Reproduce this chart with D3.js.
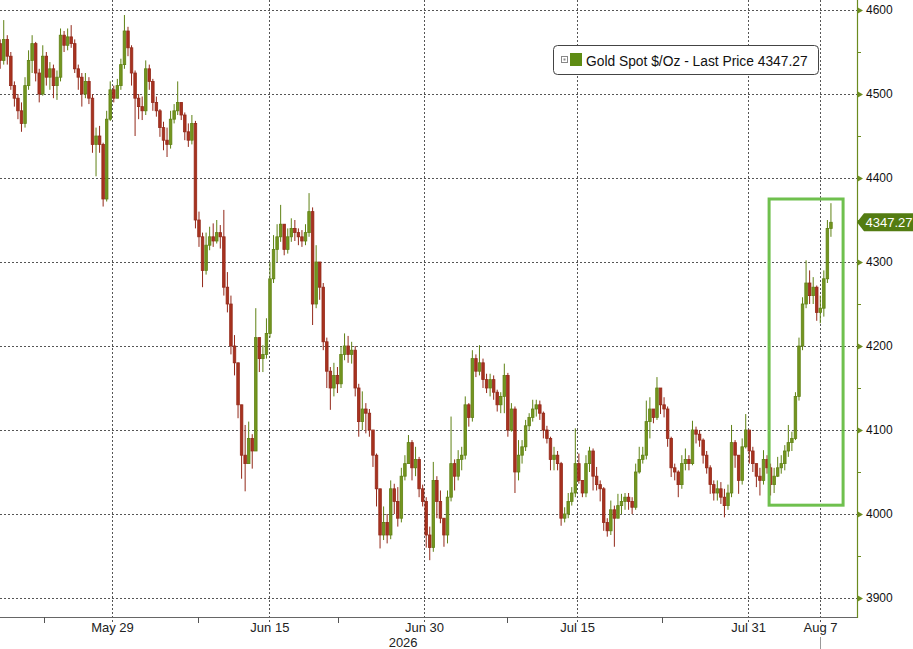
<!DOCTYPE html>
<html>
<head>
<meta charset="utf-8">
<script src="https://cdn.jsdelivr.net/npm/d3@7"></script>
<style>
body { margin: 0; background: #fff; }
svg { display: block; font-family: "Liberation Sans", Arial, sans-serif; }
</style>
</head>
<body>
<svg width="913" height="649"></svg>
<script>
// Gold spot, 6-hour bars, one slot per quarter trading day starting May 19 2026
var opens = [4560,
  4540,4565,4545,4510,4495,4480,4465,4510,4540,4560,
  4525,4500,4545,4520,4530,4510,4520,4570,4558,4568,
  4560,4530,4520,4500,4515,4495,4440,4450,4440,4375,
  4470,4505,4495,4510,4535,4575,4555,4525,4495,4485,
  4480,4530,4515,4490,4480,4460,4445,4440,4470,4480,
  4490,4475,4455,4445,4465,4350,4330,4290,4320,4330,
  4325,4335,4330,4270,4250,4200,4180,4130,4070,4060,
  4090,4075,4210,4185,4190,4215,4280,4315,4330,4345,
  4315,4330,4340,4335,4330,4325,4335,4360,4250,4300,
  4270,4205,4170,4150,4165,4155,4190,4200,4190,4195,
  4150,4110,4125,4120,4100,4070,4030,3975,3990,3975,
  4030,4015,3995,4045,4060,4085,4055,4065,4030,4015,
  3975,3960,4040,4015,3995,3975,4020,4060,4045,4065,
  4070,4130,4115,4185,4170,4180,4160,4150,4160,4145,
  4130,4140,4165,4100,4125,4050,4070,4080,4105,4115,
  4125,4130,4120,4100,4090,4065,4070,4060,3995,4000,
  4015,4025,4060,4040,4025,4060,4075,4045,4035,4030,
  3990,3980,4005,3995,4010,4015,4020,4015,4008,4050,
  4065,4070,4110,4125,4115,4150,4130,4125,4090,4055,
  4050,4035,4060,4065,4060,4100,4095,4088,4070,4055,
  4035,4025,4030,4020,4010,4025,4085,4070,4040,4080,
  4100,4075,4060,4045,4040,4065,4055,4035,4045,4055,
  4060,4075,4085,4090,4140,4200,4250,4275,4260,4270,
  4240,4245,4280,4340];

var highs = [
  4565,4588,4570,4550,4515,4500,4490,4520,4552,4570,
  4562,4530,4558,4550,4538,4535,4528,4578,4575,4578,
  4582,4565,4535,4525,4525,4520,4500,4460,4462,4442,
  4480,4515,4510,4518,4542,4594,4580,4558,4528,4500,
  4497,4540,4535,4518,4497,4482,4467,4460,4480,4488,
  4515,4490,4478,4465,4475,4468,4360,4335,4335,4342,
  4346,4350,4344,4362,4288,4260,4213,4180,4130,4106,
  4110,4095,4245,4210,4201,4233,4300,4332,4345,4368,
  4345,4340,4352,4350,4340,4338,4345,4382,4365,4320,
  4300,4275,4210,4175,4180,4175,4200,4215,4212,4205,
  4200,4155,4146,4132,4125,4100,4072,4030,4009,4000,
  4040,4036,4032,4055,4070,4094,4088,4080,4068,4035,
  4020,3985,4062,4045,4028,3995,4028,4116,4065,4076,
  4080,4140,4132,4195,4190,4201,4185,4167,4167,4165,
  4148,4145,4179,4168,4132,4128,4088,4088,4112,4120,
  4136,4136,4135,4122,4105,4092,4080,4075,4062,4008,
  4025,4032,4102,4072,4040,4070,4080,4078,4056,4040,
  4032,3995,4016,4010,4024,4024,4025,4025,4020,4060,
  4080,4080,4135,4139,4125,4163,4150,4139,4128,4092,
  4060,4052,4070,4078,4070,4111,4104,4100,4090,4075,
  4058,4040,4040,4038,4030,4035,4106,4088,4070,4090,
  4119,4100,4080,4060,4055,4076,4070,4060,4055,4068,
  4070,4082,4106,4098,4145,4210,4258,4302,4290,4282,
  4272,4260,4290,4350,4370];

var lows = [
  4530,4535,4535,4505,4485,4470,4455,4460,4505,4525,
  4515,4490,4498,4510,4505,4495,4493,4515,4550,4552,
  4555,4525,4505,4485,4495,4488,4430,4402,4430,4366,
  4372,4468,4490,4495,4505,4530,4545,4510,4450,4470,
  4469,4475,4505,4480,4473,4449,4433,4425,4435,4465,
  4475,4469,4445,4437,4440,4340,4318,4270,4285,4314,
  4318,4322,4316,4260,4240,4190,4165,4114,4042,4027,
  4060,4054,4075,4169,4169,4185,4210,4275,4300,4324,
  4308,4310,4324,4325,4320,4318,4320,4330,4225,4245,
  4255,4195,4150,4124,4140,4144,4150,4183,4180,4179,
  4140,4092,4100,4096,4092,4056,4009,3959,3969,3965,
  3970,4000,3985,3990,4040,4060,4040,4045,4020,4009,
  3960,3945,3955,3995,3989,3961,3965,4015,4028,4040,
  4052,4065,4104,4110,4163,4165,4150,4144,4140,4136,
  4122,4120,4120,4092,4098,4025,4040,4060,4075,4100,
  4110,4116,4112,4090,4084,4052,4052,4052,3986,3990,
  3995,4010,4020,4036,4020,4020,4050,4028,4028,4015,
  3980,3973,3975,3961,3995,4000,4005,4005,4000,4005,
  4048,4060,4065,4090,4108,4112,4119,4115,4080,4044,
  4040,4020,4030,4052,4052,4058,4084,4080,4060,4048,
  4024,4016,4016,4012,3996,4005,4020,4055,4024,4035,
  4078,4060,4050,4032,4022,4035,4048,4022,4025,4044,
  4048,4052,4068,4075,4088,4135,4195,4245,4250,4250,
  4230,4227,4235,4275,4330];

var closes = [
  4540,4565,4545,4510,4495,4480,4465,4510,4540,4560,
  4525,4500,4545,4520,4530,4510,4520,4570,4558,4568,
  4560,4530,4520,4500,4515,4495,4440,4450,4440,4375,
  4470,4505,4495,4510,4535,4575,4555,4525,4495,4485,
  4480,4530,4515,4490,4480,4460,4445,4440,4470,4480,
  4490,4475,4455,4445,4465,4350,4330,4290,4320,4330,
  4325,4335,4330,4270,4250,4200,4180,4130,4070,4060,
  4090,4075,4210,4185,4190,4215,4280,4315,4330,4345,
  4315,4330,4340,4335,4330,4325,4335,4360,4250,4300,
  4270,4205,4170,4150,4165,4155,4190,4200,4190,4195,
  4150,4110,4125,4120,4100,4070,4030,3975,3990,3975,
  4030,4015,3995,4045,4060,4085,4055,4065,4030,4015,
  3975,3960,4040,4015,3995,3975,4020,4060,4045,4065,
  4070,4130,4115,4185,4170,4180,4160,4150,4160,4145,
  4130,4140,4165,4100,4125,4050,4070,4080,4105,4115,
  4125,4130,4120,4100,4090,4065,4070,4060,3995,4000,
  4015,4025,4060,4040,4025,4060,4075,4045,4035,4030,
  3990,3980,4005,3995,4010,4015,4020,4015,4008,4050,
  4065,4070,4110,4125,4115,4150,4130,4125,4090,4055,
  4050,4035,4060,4065,4060,4100,4095,4088,4070,4055,
  4035,4025,4030,4020,4010,4025,4085,4070,4040,4080,
  4100,4075,4060,4045,4040,4065,4055,4035,4045,4055,
  4060,4075,4085,4090,4140,4200,4250,4275,4260,4270,
  4240,4245,4280,4340,4347.27];

var barDays = 0.25;                       // each bar is a quarter of a trading day
var priceTicks = [3900, 4000, 4100, 4200, 4300, 4400, 4500, 4600];
var priceMinor = [3950, 4050, 4150, 4250, 4350, 4450, 4550];
var dateTicks = [8, 19.08, 29.97, 40.75, 52.79, 57.86];   // trading-day index
var dateLabels = ["May 29", "Jun 15", "Jun 30", "Jul 15", "Jul 31", "Aug 7"];
var dateMinor = [3.19, 14.08, 23.93, 35.84, 46.72];
var yearLabel = "2026", yearAt = 28.5;
var lastPrice = 4347.27;
var seriesName = "Gold Spot $/Oz - Last Price";
var highlight = {d0: 54.27, d1: 59.48, lo: 4010.5, hi: 4375};

var svg = d3.select("svg"),
    width = +svg.attr("width"),
    height = +svg.attr("height"),
    axisX = 857,
    axisY = 617;

var x = d3.scaleLinear().domain([0, 60.46]).range([-1.6, axisX]),
    y = d3.scaleLinear().domain([3900, 4600]).range([598, 10]);

var upFill = "#74951f", upLine = "#5f8214",
    downFill = "#a8321f", downLine = "#93291a",
    axisColor = "#6b8b1f";

// grid
var grid = svg.append("g")
    .attr("stroke", "#555")
    .attr("stroke-dasharray", "2,2")
    .attr("shape-rendering", "crispEdges");

grid.selectAll(".h")
    .data(priceTicks)
    .enter().append("line")
      .attr("x1", 0)
      .attr("x2", axisX)
      .attr("y1", function(d) { return Math.round(y(d)) + 0.5; })
      .attr("y2", function(d) { return Math.round(y(d)) + 0.5; });

grid.selectAll(".v")
    .data(dateTicks)
    .enter().append("line")
      .attr("x1", function(d) { return Math.round(x(d)) + 0.5; })
      .attr("x2", function(d) { return Math.round(x(d)) + 0.5; })
      .attr("y1", 0)
      .attr("y2", axisY + 5);

// candles
var candles = closes.map(function(c, i) {
  return {i: i, o: opens[i], h: highs[i], l: lows[i], c: c};
});

var bw = x(barDays) - x(0) - 1.0;

var bar = svg.append("g")
    .selectAll("g")
    .data(candles)
    .enter().append("g")
      .attr("transform", function(d) { return "translate(" + x((d.i + 0.5) * barDays) + ",0)"; });

bar.append("line")
    .attr("y1", function(d) { return y(d.h); })
    .attr("y2", function(d) { return y(d.l); })
    .attr("stroke", function(d) { return d.c >= d.o ? upLine : downLine; })
    .attr("stroke-width", 1);

bar.append("rect")
    .attr("x", -bw / 2)
    .attr("width", bw)
    .attr("y", function(d) { return y(Math.max(d.o, d.c)); })
    .attr("height", function(d) { return Math.max(1, Math.abs(y(d.o) - y(d.c))); })
    .attr("fill", function(d) { return d.c >= d.o ? upFill : downFill; })
    .attr("stroke", function(d) { return d.c >= d.o ? upLine : downLine; })
    .attr("stroke-width", 0.8);

// highlight box
svg.append("rect")
    .attr("x", x(highlight.d0))
    .attr("y", y(highlight.hi))
    .attr("width", x(highlight.d1) - x(highlight.d0))
    .attr("height", y(highlight.lo) - y(highlight.hi))
    .attr("fill", "none")
    .attr("stroke", "#6fc04e")
    .attr("stroke-width", 3);

// bottom axis
var xAxis = svg.append("g")
    .attr("transform", "translate(0," + axisY + ")")
    .call(d3.axisBottom(x)
      .tickValues(dateTicks)
      .tickSize(0)
      .tickPadding(6)
      .tickFormat(function(d, i) { return dateLabels[i]; }));

xAxis.select(".domain").remove();
xAxis.selectAll("text")
    .attr("font-family", "Liberation Sans, Arial, sans-serif")
    .attr("font-size", 13)
    .attr("fill", "#222");

svg.append("line")
    .attr("x1", 0).attr("x2", axisX)
    .attr("y1", axisY + 0.5).attr("y2", axisY + 0.5)
    .attr("stroke", "#666")
    .attr("shape-rendering", "crispEdges");

svg.append("g")
    .selectAll("line")
    .data(dateMinor)
    .enter().append("line")
      .attr("x1", function(d) { return Math.round(x(d)) + 0.5; })
      .attr("x2", function(d) { return Math.round(x(d)) + 0.5; })
      .attr("y1", axisY)
      .attr("y2", axisY + 6)
      .attr("stroke", "#555");

svg.append("text")
    .attr("x", x(yearAt))
    .attr("y", axisY + 30)
    .attr("text-anchor", "middle")
    .attr("font-size", 13)
    .attr("fill", "#222")
    .text(yearLabel);

svg.append("line")
    .attr("x1", Math.round(x(dateTicks[5])) + 0.5)
    .attr("x2", Math.round(x(dateTicks[5])) + 0.5)
    .attr("y1", axisY + 20)
    .attr("y2", height)
    .attr("stroke", "#999");

// right axis
var yAxis = svg.append("g")
    .attr("transform", "translate(" + axisX + ",0)")
    .call(d3.axisRight(y)
      .tickValues(priceTicks)
      .tickSize(0)
      .tickPadding(9)
      .tickFormat(d3.format("d")));

yAxis.select(".domain").remove();
yAxis.selectAll("text")
    .attr("font-family", "Liberation Sans, Arial, sans-serif")
    .attr("font-size", 12)
    .attr("fill", "#111");
yAxis.selectAll(".tick").append("path")
    .attr("d", "M0,-3.5L6,0L0,3.5Z")
    .attr("fill", axisColor);

svg.append("g")
    .attr("transform", "translate(" + axisX + ",0)")
    .selectAll("line")
    .data(priceMinor)
    .enter().append("line")
      .attr("x1", 0)
      .attr("x2", 4)
      .attr("y1", function(d) { return Math.round(y(d)) + 0.5; })
      .attr("y2", function(d) { return Math.round(y(d)) + 0.5; })
      .attr("stroke", axisColor);

svg.append("line")
    .attr("x1", axisX + 0.5).attr("x2", axisX + 0.5)
    .attr("y1", 0).attr("y2", axisY + 1)
    .attr("stroke", axisColor)
    .attr("stroke-width", 1.2);

// last price pennant
var ly = y(lastPrice);
svg.append("path")
    .attr("d", "M" + axisX + "," + ly + "L" + (axisX + 7) + "," + (ly - 9) + "L" + width + "," + (ly - 9) +
               "L" + width + "," + (ly + 9) + "L" + (axisX + 7) + "," + (ly + 9) + "Z")
    .attr("fill", "#537c12");

svg.append("text")
    .attr("x", axisX + 8.5)
    .attr("y", ly)
    .attr("dy", "0.36em")
    .attr("font-size", 13)
    .attr("fill", "#fff")
    .text(d3.format(".2f")(lastPrice));

// legend
var legend = svg.append("g").attr("transform", "translate(553,45)");

legend.append("rect")
    .attr("x", 0.5).attr("y", 0.5)
    .attr("width", 265).attr("height", 29)
    .attr("rx", 4)
    .attr("fill", "#fff")
    .attr("stroke", "#444");

legend.append("rect")
    .attr("x", 8.5).attr("y", 11.5)
    .attr("width", 6).attr("height", 6)
    .attr("fill", "none")
    .attr("stroke", "#888");

legend.append("rect")
    .attr("x", 10.5).attr("y", 13.5)
    .attr("width", 2).attr("height", 2)
    .attr("fill", "#888");

legend.append("rect")
    .attr("x", 17).attr("y", 8)
    .attr("width", 12).attr("height", 13)
    .attr("fill", "#5e8c14");

legend.append("text")
    .attr("x", 33)
    .attr("y", 20.5)
    .attr("font-size", 13.8)
    .attr("fill", "#111")
    .text(seriesName + " " + d3.format(".2f")(lastPrice));
</script>
</body>
</html>
